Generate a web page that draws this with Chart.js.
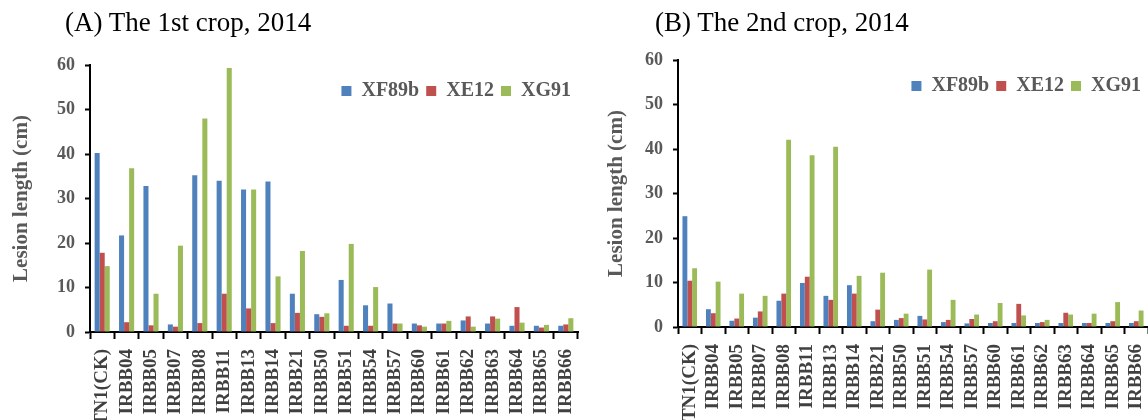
<!DOCTYPE html>
<html>
<head>
<meta charset="utf-8">
<script src="https://cdn.jsdelivr.net/npm/chart.js@4.4.0/dist/chart.umd.min.js"></script>
<style>
  html, body { margin: 0; padding: 0; background: #fff; overflow: hidden; }
  body { width: 1148px; height: 420px; position: relative; }
  .panel { position: absolute; top: 0; height: 420px; }
  .panel-title { position: absolute; top: 7px; font-family: 'Liberation Serif', 'Times New Roman', serif; font-size: 27px; color: #000; white-space: nowrap; }
</style>
</head>
<body>
<div class="panel" style="left:0;width:580px"><canvas id="chartA"></canvas></div>
<div class="panel" style="left:588px;width:560px"><canvas id="chartB"></canvas></div>
<div class="panel-title" style="left:65px">(A) The 1st crop, 2014</div>
<div class="panel-title" style="left:655px">(B) The 2nd crop, 2014</div>

<script>
// cultivars on the x axis
const categories = ['TN1(CK)', 'IRBB04', 'IRBB05', 'IRBB07', 'IRBB08', 'IRBB11', 'IRBB13',
    'IRBB14', 'IRBB21', 'IRBB50', 'IRBB51', 'IRBB54', 'IRBB57', 'IRBB60', 'IRBB61',
    'IRBB62', 'IRBB63', 'IRBB64', 'IRBB65', 'IRBB66'];

const strains = ['XF89b', 'XE12', 'XG91'];
const colors = ['#4F81BD', '#C0504D', '#9BBB59'];

// (A) 1st crop
const crop1XF89b = [40.2, 21.7, 32.8, 1.7, 35.2, 34.0, 32.0, 33.8, 8.6, 4.0, 11.7, 6.0, 6.4, 1.9, 1.9, 2.6, 1.9, 1.4, 1.4, 1.4];
const crop1XE12  = [17.8, 2.2, 1.5, 1.2, 2.0, 8.6, 5.3, 2.0, 4.3, 3.4, 1.4, 1.4, 1.9, 1.5, 1.9, 3.5, 3.5, 5.6, 1.0, 1.7];
const crop1XG91  = [14.8, 36.8, 8.6, 19.4, 48.0, 59.3, 32.0, 12.5, 18.2, 4.2, 19.8, 10.1, 1.9, 1.2, 2.5, 1.2, 3.0, 2.1, 1.6, 3.1];

// (B) 2nd crop
const crop2XF89b = [24.9, 4.0, 1.4, 2.1, 5.9, 9.9, 7.0, 9.4, 1.3, 1.6, 2.5, 1.1, 0.8, 0.9, 0.9, 0.9, 0.9, 0.9, 0.9, 0.9];
const crop2XE12  = [10.4, 3.1, 1.9, 3.5, 7.5, 11.3, 6.1, 7.5, 3.9, 2.0, 1.7, 1.6, 1.8, 1.3, 5.2, 1.1, 3.2, 0.9, 1.3, 1.3];
const crop2XG91  = [13.2, 10.2, 7.5, 7.0, 42.1, 38.6, 40.5, 11.5, 12.2, 3.0, 12.9, 6.1, 2.8, 5.4, 2.6, 1.6, 2.8, 3.0, 5.6, 3.7];

const yMin = 0, yMax = 60, yStep = 10;

const serif = "'Liberation Serif', 'Times New Roman', serif";
const textGray = '#595959';

// drop the legend box down into the plot area (it sits top-right over the bars)
const legendInside = {
    id: 'legendInside',
    afterLayout(chart) {
        const lg = chart.legend;
        const h = lg.bottom - lg.top;
        lg.top = chart.chartArea.top + chart.options.plugins.legendInside.offset;
        lg.bottom = lg.top + h;
    }
};

function makeChart(id, seriesValues, top, axisBottom, rightPad, titlePad, legendOffset) {
    const datasets = seriesValues.map((vals, i) => ({
        label: strains[i],
        data: vals,
        backgroundColor: colors[i],
        borderWidth: 0,
        barPercentage: 1.0,
        categoryPercentage: 0.62
    }));

    const chart = new Chart(document.getElementById(id), {
        type: 'bar',
        data: { labels: categories, datasets: datasets },
        plugins: [legendInside],
        options: {
            responsive: true,
            maintainAspectRatio: false,
            animation: false,
            layout: { padding: { top: 0, right: rightPad, bottom: 0, left: 0 } },
            plugins: {
                tooltip: { enabled: false },
                legendInside: { offset: legendOffset },
                legend: {
                    position: 'top',
                    align: 'end',
                    labels: {
                        boxWidth: 10,
                        boxHeight: 10,
                        padding: 7,
                        color: textGray,
                        font: { family: serif, size: 20, weight: 'bold' }
                    }
                }
            },
            scales: {
                x: {
                    afterFit: function(scale) {
                        scale.height = 420 - axisBottom;
                        // rotated labels make chart.js reserve extra room at the ends; not wanted here
                        scale.paddingLeft = 0;
                        scale.paddingRight = 0;
                    },
                    border: { display: true, color: '#000', width: 2 },
                    grid: {
                        offset: true,
                        drawOnChartArea: false,
                        drawTicks: true,
                        tickLength: 7,
                        tickColor: '#000',
                        tickWidth: 2
                    },
                    ticks: {
                        autoSkip: false,
                        minRotation: 90,
                        maxRotation: 90,
                        padding: 10,
                        color: '#404040',
                        font: { family: serif, size: 19, weight: 'bold' }
                    }
                },
                y: {
                    min: yMin,
                    max: yMax,
                    afterFit: function(scale) { scale.width = 90; },
                    border: { display: true, color: '#000', width: 2 },
                    grid: {
                        drawOnChartArea: false,
                        drawTicks: true,
                        tickLength: 5,
                        tickColor: '#000',
                        tickWidth: 2
                    },
                    ticks: {
                        stepSize: yStep,
                        padding: 10,
                        color: textGray,
                        font: { family: serif, size: 18, weight: 'bold' }
                    },
                    title: {
                        display: true,
                        text: 'Lesion length (cm)',
                        color: textGray,
                        padding: { top: titlePad, bottom: 0 },
                        font: { family: serif, size: 21, weight: 'bold' }
                    }
                }
            }
        }
    });

    // the legend still takes room above the plot, so pad the rest to put the plot top where wanted
    chart.options.layout.padding.top = Math.max(0, top - chart.legend.height);
    chart.update();
    return chart;
}

document.addEventListener('DOMContentLoaded', function() {
    makeChart('chartA', [crop1XF89b, crop1XE12, crop1XG91], 65, 332, 2, 9, 9);
    makeChart('chartB', [crop2XF89b, crop2XE12, crop2XG91], 60, 327, 0, 16, 9);
});
</script>
</body>
</html>
